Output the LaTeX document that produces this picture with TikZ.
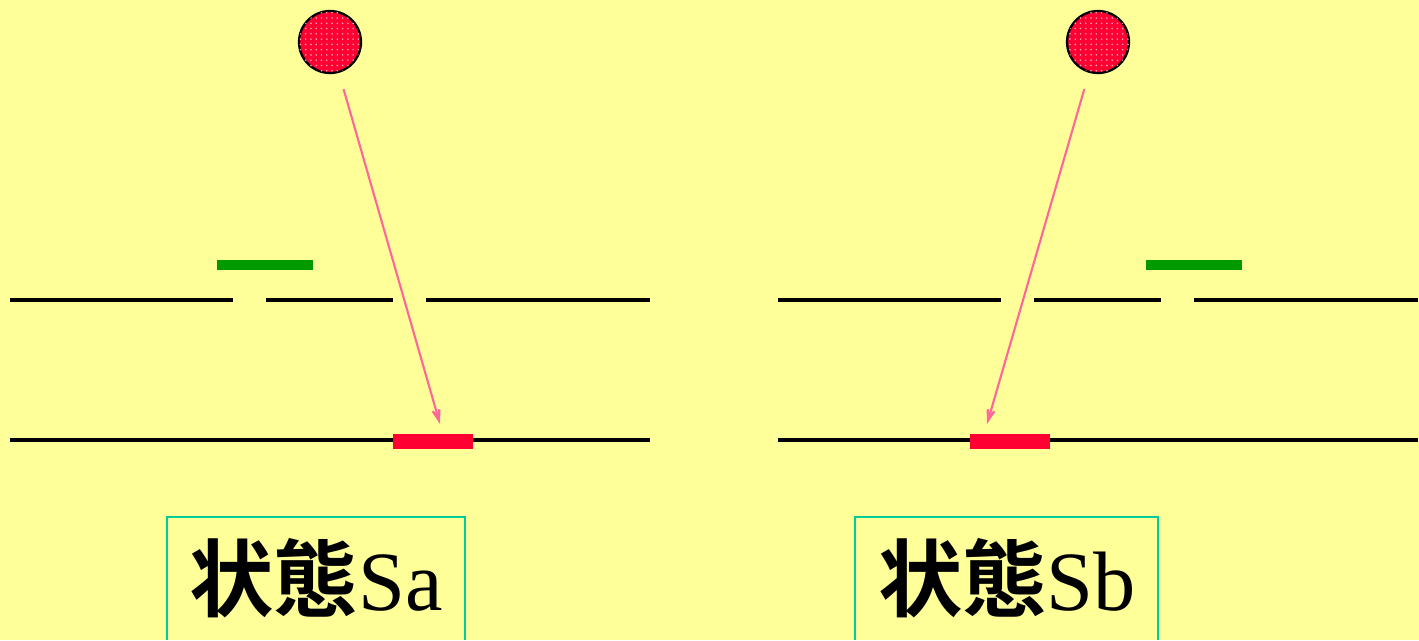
\documentclass[tikz,border=0pt]{standalone}
\usepackage{fontspec}
\setmainfont{Liberation Serif}
\newfontfamily\cjk{Noto Sans CJK JP}[BoldFont={Noto Sans CJK JP Bold}]
\usetikzlibrary{arrows.meta, patterns}

\definecolor{bgyellow}{RGB}{255,255,153}
\definecolor{ballred}{RGB}{255,0,51}
\definecolor{leafgreen}{RGB}{0,153,0}
\definecolor{arrowpink}{RGB}{255,102,153}
\definecolor{frameteal}{RGB}{0,204,153}

\begin{document}
\begin{tikzpicture}[x=0.02cm, y=-0.02cm,
    ball/.style={circle, draw, line width=1.3pt, minimum size=1.24cm, inner sep=0pt, fill=ballred, postaction={pattern=dots, pattern color=white!65!ballred}},
    level/.style={line width=1.9pt},
    redbar/.style={rectangle, fill=ballred, minimum width=1.6cm, minimum height=0.3cm, inner sep=0pt},
    greenbar/.style={rectangle, fill=leafgreen, minimum width=1.92cm, minimum height=0.2cm, inner sep=0pt},
    arrow/.style={-{Stealth[length=5mm, width=3.2mm, inset=3mm]}, draw=arrowpink, line width=1.2pt},
    frame/.style={draw=frameteal, line width=1.3pt},
    state/.style={font=\fontsize{48}{50}\selectfont, inner sep=0pt, anchor=base}
]
\fill[bgyellow] (0,0) rectangle (1419,640);
\useasboundingbox (0,0) rectangle (1419,640);

\draw[level] (10,300) -- (233,300);
\draw[level] (266,300) -- (393,300);
\draw[level] (426,300) -- (650,300);
\draw[level] (10,440) -- (650,440);

\draw[level] (778,300) -- (1001,300);
\draw[level] (1034,300) -- (1161,300);
\draw[level] (1194,300) -- (1418,300);
\draw[level] (778,440) -- (1418,440);

\node[ball] (ballA) at (330,42) {};
\node[ball] (ballB) at (1098,42) {};

\node[greenbar] (greenA) at (265,265) {};
\node[greenbar] (greenB) at (1194,265) {};

\node[redbar] (barA) at (433,441) {};
\node[redbar] (barB) at (1010,441) {};

\coordinate (hitA) at (440,424);
\coordinate (hitB) at (987,424);
\draw[arrow, shorten <=0.34cm] (ballA) -- (hitA);
\draw[arrow, shorten <=0.34cm] (ballB) -- (hitB);

\draw[frame] (167,640) |- (465,517) -- (465,640);
\draw[frame] (855,640) |- (1158,517) -- (1158,640);

\node[state] (stateA) at (316,610) {{\cjk\bfseries 状態}Sa};
\node[state] (stateB) at (1007,610) {{\cjk\bfseries 状態}Sb};
\end{tikzpicture}
\end{document}
